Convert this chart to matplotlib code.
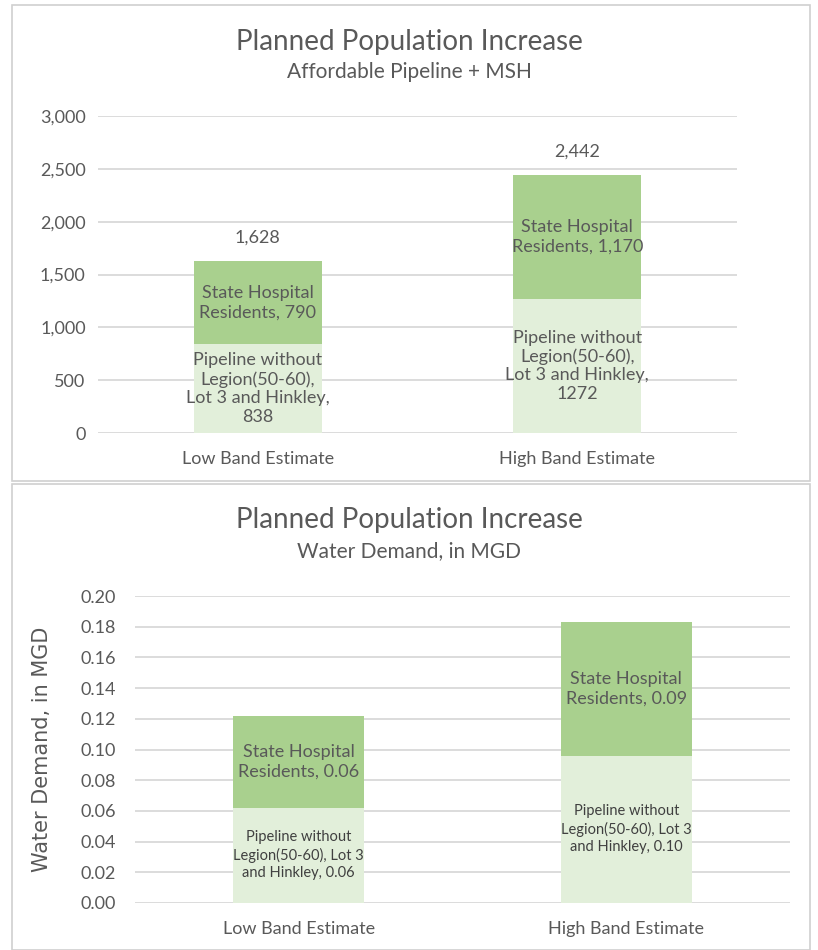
import matplotlib.pyplot as plt
from matplotlib.patches import Rectangle
from matplotlib.ticker import FuncFormatter

plt.rcParams['font.family'] = ['Lato', 'DejaVu Sans']

categories = ['Low Band Estimate', 'High Band Estimate']

# population panel
pop_pipeline = [838, 1272]
pop_hospital = [790, 1170]
pop_totals = ['1,628', '2,442']
pop_pipeline_labels = ['Pipeline without\nLegion(50-60),\nLot 3 and Hinkley,\n838',
                       'Pipeline without\nLegion(50-60),\nLot 3 and Hinkley,\n1272']
pop_hospital_labels = ['State Hospital\nResidents, 790', 'State Hospital\nResidents, 1,170']

# water demand panel
mgd_pipeline = [0.062, 0.096]
mgd_hospital = [0.060, 0.087]
mgd_pipeline_labels = ['Pipeline without\nLegion(50-60), Lot 3\nand Hinkley, 0.06',
                       'Pipeline without\nLegion(50-60), Lot 3\nand Hinkley, 0.10']
mgd_hospital_labels = ['State Hospital\nResidents, 0.06', 'State Hospital\nResidents, 0.09']

LIGHT = '#e2efda'
DARK = '#a9d08e'
TEXT = '#595959'
GRID = '#d9d9d9'

fig = plt.figure(figsize=(8.18, 9.5), dpi=100)

# panel frames
for y0, h in [(0.494, 0.501), (0.0, 0.491)]:
    fig.patches.append(Rectangle((0.015, y0), 0.975, h, transform=fig.transFigure,
                                 fill=False, edgecolor='#d0d0d0', lw=1.2))


def style(ax, ypad):
    for s in ax.spines.values():
        s.set_visible(False)
    ax.yaxis.grid(True, color=GRID, lw=1.3)
    ax.set_axisbelow(True)
    ax.tick_params(length=0, colors=TEXT, labelsize=13)
    ax.tick_params(axis='x', pad=13)
    ax.tick_params(axis='y', pad=ypad)
    ax.set_xlim(-0.5, 1.5)


# top panel
ax1 = fig.add_axes([0.12, 0.5442, 0.781, 0.3337])
b1 = ax1.bar(categories, pop_pipeline, width=0.4, color=LIGHT)
b2 = ax1.bar(categories, pop_hospital, width=0.4, bottom=pop_pipeline, color=DARK)
ax1.bar_label(b1, labels=pop_pipeline_labels, label_type='center', color=TEXT,
              fontsize=13, linespacing=1.2)
ax1.bar_label(b2, labels=pop_hospital_labels, label_type='center', color=TEXT,
              fontsize=13, linespacing=1.25)
ax1.bar_label(b2, labels=pop_totals, padding=11, color=TEXT, fontsize=13)
ax1.set_ylim(0, 3000)
ax1.set_yticks(range(0, 3001, 500))
ax1.yaxis.set_major_formatter(FuncFormatter(lambda v, p: f'{int(v):,}'))
style(ax1, 9)
fig.text(0.5, 0.956, 'Planned Population Increase', ha='center', va='center',
         fontsize=20, color=TEXT)
fig.text(0.5, 0.924, 'Affordable Pipeline + MSH', ha='center', va='center',
         fontsize=15, color=TEXT)

# bottom panel
ax2 = fig.add_axes([0.165, 0.0495, 0.8008, 0.3231])
c1 = ax2.bar(categories, mgd_pipeline, width=0.4, color=LIGHT)
c2 = ax2.bar(categories, mgd_hospital, width=0.4, bottom=mgd_pipeline, color=DARK)
ax2.bar_label(c1, labels=mgd_pipeline_labels, label_type='center', color='#404040',
              fontsize=10.5, linespacing=1.3)
ax2.bar_label(c2, labels=mgd_hospital_labels, label_type='center', color=TEXT,
              fontsize=13, linespacing=1.3)
ax2.set_ylim(0, 0.2)
ax2.set_yticks([i / 100 for i in range(0, 21, 2)])
ax2.yaxis.set_major_formatter(FuncFormatter(lambda v, p: f'{v:.2f}'))
style(ax2, 14)
ax2.set_ylabel('Water Demand, in MGD', fontsize=15, color=TEXT,
               family='DejaVu Sans', va='center')
ax2.yaxis.set_label_coords(-0.142, 0.5)
fig.text(0.5, 0.453, 'Planned Population Increase', ha='center', va='center',
         fontsize=20, color=TEXT)
fig.text(0.5, 0.420, 'Water Demand, in MGD', ha='center', va='center',
         fontsize=15, color=TEXT)

fig.savefig('out.png', dpi=100)
